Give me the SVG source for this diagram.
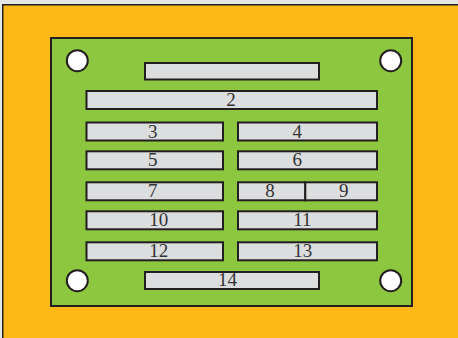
<svg xmlns="http://www.w3.org/2000/svg" width="458" height="338" viewBox="0 0 458 338">
<style>
.bar{fill:#dcddde;stroke:#231f20;stroke-width:2}
.hole{fill:#ffffff;stroke:#231f20;stroke-width:2}
.lbl{font-family:"Liberation Serif","Times New Roman",serif;font-size:19px;fill:#333333;text-anchor:middle}
</style>
<rect x="0" y="0" width="458" height="338" fill="#e6e6e6"/>
<g id="frame"><rect x="2.75" y="4.75" width="460" height="340" fill="#fbb817" stroke="#231f20" stroke-width="1.5"/></g>
<g id="plate"><rect x="51" y="38" width="361" height="268" fill="#8dc63f" stroke="#231f20" stroke-width="2"/></g>
<g id="holes">
<circle class="hole" cx="77.3" cy="60.7" r="10.5"/>
<circle class="hole" cx="390.7" cy="60.7" r="10.5"/>
<circle class="hole" cx="77.3" cy="280.7" r="10.5"/>
<circle class="hole" cx="390.7" cy="280.7" r="10.5"/>
</g>
<g id="bar1"><rect class="bar" x="145" y="63" width="174" height="16.5"/></g>
<g id="bar2"><rect class="bar" x="86.5" y="91" width="290.5" height="18"/><text class="lbl" x="231" y="105.5">2</text></g>
<g id="bar3"><rect class="bar" x="86.5" y="122.5" width="136.5" height="18"/><text class="lbl" x="152.7" y="137.5">3</text></g>
<g id="bar4"><rect class="bar" x="238" y="122.5" width="139" height="18"/><text class="lbl" x="297.3" y="137.5">4</text></g>
<g id="bar5"><rect class="bar" x="86.5" y="151.3" width="136.5" height="18"/><text class="lbl" x="152.7" y="166.3">5</text></g>
<g id="bar6"><rect class="bar" x="238" y="151.3" width="139" height="18"/><text class="lbl" x="297.3" y="166.3">6</text></g>
<g id="bar7"><rect class="bar" x="86.5" y="182.3" width="136.5" height="18"/><text class="lbl" x="152.7" y="197.3">7</text></g>
<g id="bar8"><rect class="bar" x="238" y="182.3" width="67.3" height="18"/><text class="lbl" x="270" y="197.3">8</text></g>
<g id="bar9"><rect class="bar" x="305.3" y="182.3" width="71.7" height="18"/><text class="lbl" x="343.7" y="197.3">9</text></g>
<g id="bar10"><rect class="bar" x="86.5" y="211.3" width="136.5" height="18"/><text class="lbl" x="158.7" y="226.3">10</text></g>
<g id="bar11"><rect class="bar" x="238" y="211.3" width="139" height="18"/><text class="lbl" x="302.3" y="226.3">11</text></g>
<g id="bar12"><rect class="bar" x="86.5" y="242.3" width="136.5" height="18"/><text class="lbl" x="158.7" y="257.3">12</text></g>
<g id="bar13"><rect class="bar" x="238" y="242.3" width="139" height="18"/><text class="lbl" x="302.7" y="257.3">13</text></g>
<g id="bar14"><rect class="bar" x="145" y="272" width="174" height="17"/><text class="lbl" x="227.5" y="285.7">14</text></g>
<g id="connectors"/>
</svg>
